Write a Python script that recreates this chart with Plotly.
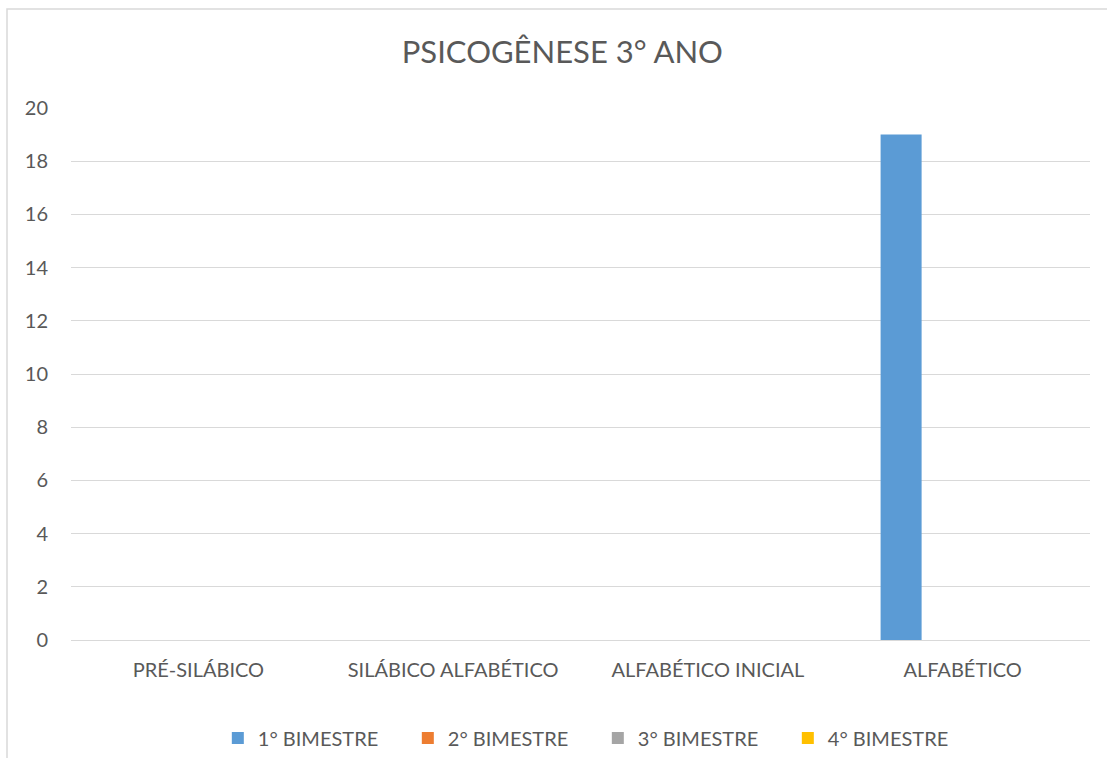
import plotly.graph_objects as go

categories = ["PRÉ-SILÁBICO", "SILÁBICO ALFABÉTICO", "ALFABÉTICO INICIAL", "ALFABÉTICO"]
series_names = ["1° BIMESTRE", "2° BIMESTRE", "3° BIMESTRE", "4° BIMESTRE"]
bim1 = [0, 0, 0, 19]
bim2 = [0, 0, 0, 0]
bim3 = [0, 0, 0, 0]
bim4 = [0, 0, 0, 0]
colors = ["#5B9BD5", "#ED7D31", "#A5A5A5", "#FFC000"]
y_ticks = [0, 2, 4, 6, 8, 10, 12, 14, 16, 18, 20]

FONT = "Lato, 'Open Sans', sans-serif"
TEXT = "#595959"

fig = go.Figure()
for name, vals, col in zip(series_names, [bim1, bim2, bim3, bim4], colors):
    fig.add_trace(go.Bar(x=categories, y=vals, name=name, marker_color=col,
                         marker_line_width=0))

W, H = 1107, 758
L, R, T, B = 71, 17, 108, 118
pw, ph = W - L - R, H - T - B

def px_x(x):
    return (x - L) / pw

def px_y(y):
    return (H - B - y) / ph

fig.update_layout(
    width=W, height=H,
    margin=dict(l=L, r=R, t=T, b=B, autoexpand=False),
    paper_bgcolor="white", plot_bgcolor="white",
    barmode="group", bargap=0.356, bargroupgap=0,
    font=dict(family=FONT, color=TEXT, size=20),
    title=dict(text="PSICOGÊNESE 3° ANO", x=0.508, xanchor="center",
               y=1 - 52 / H, yanchor="middle", yref="container",
               font=dict(size=31, color=TEXT, family=FONT)),
    xaxis=dict(showgrid=False, showline=False, zeroline=False, ticks="",
               tickfont=dict(size=20, color=TEXT), ticklabelstandoff=16),
    yaxis=dict(range=[0, 20], tickvals=y_ticks, showgrid=True,
               gridcolor="#D9D9D9", gridwidth=1.3, zeroline=True,
               zerolinecolor="#D9D9D9", zerolinewidth=1.3, showline=False,
               ticks="", tickfont=dict(size=20, color=TEXT),
               ticklabelstandoff=22),
    legend=dict(orientation="h", x=0.517, xanchor="center",
                yref="container", y=1 - 738 / H, yanchor="middle",
                font=dict(size=20, color=TEXT), itemwidth=30,
                entrywidth=145, traceorder="normal"),
    showlegend=True,
    shapes=[dict(type="rect", xref="paper", yref="paper",
                 x0=px_x(7), x1=px_x(1130), y0=px_y(9), y1=px_y(790),
                 line=dict(color="#D9D9D9", width=1.5), layer="below")],
)

fig.write_html("out.html")
